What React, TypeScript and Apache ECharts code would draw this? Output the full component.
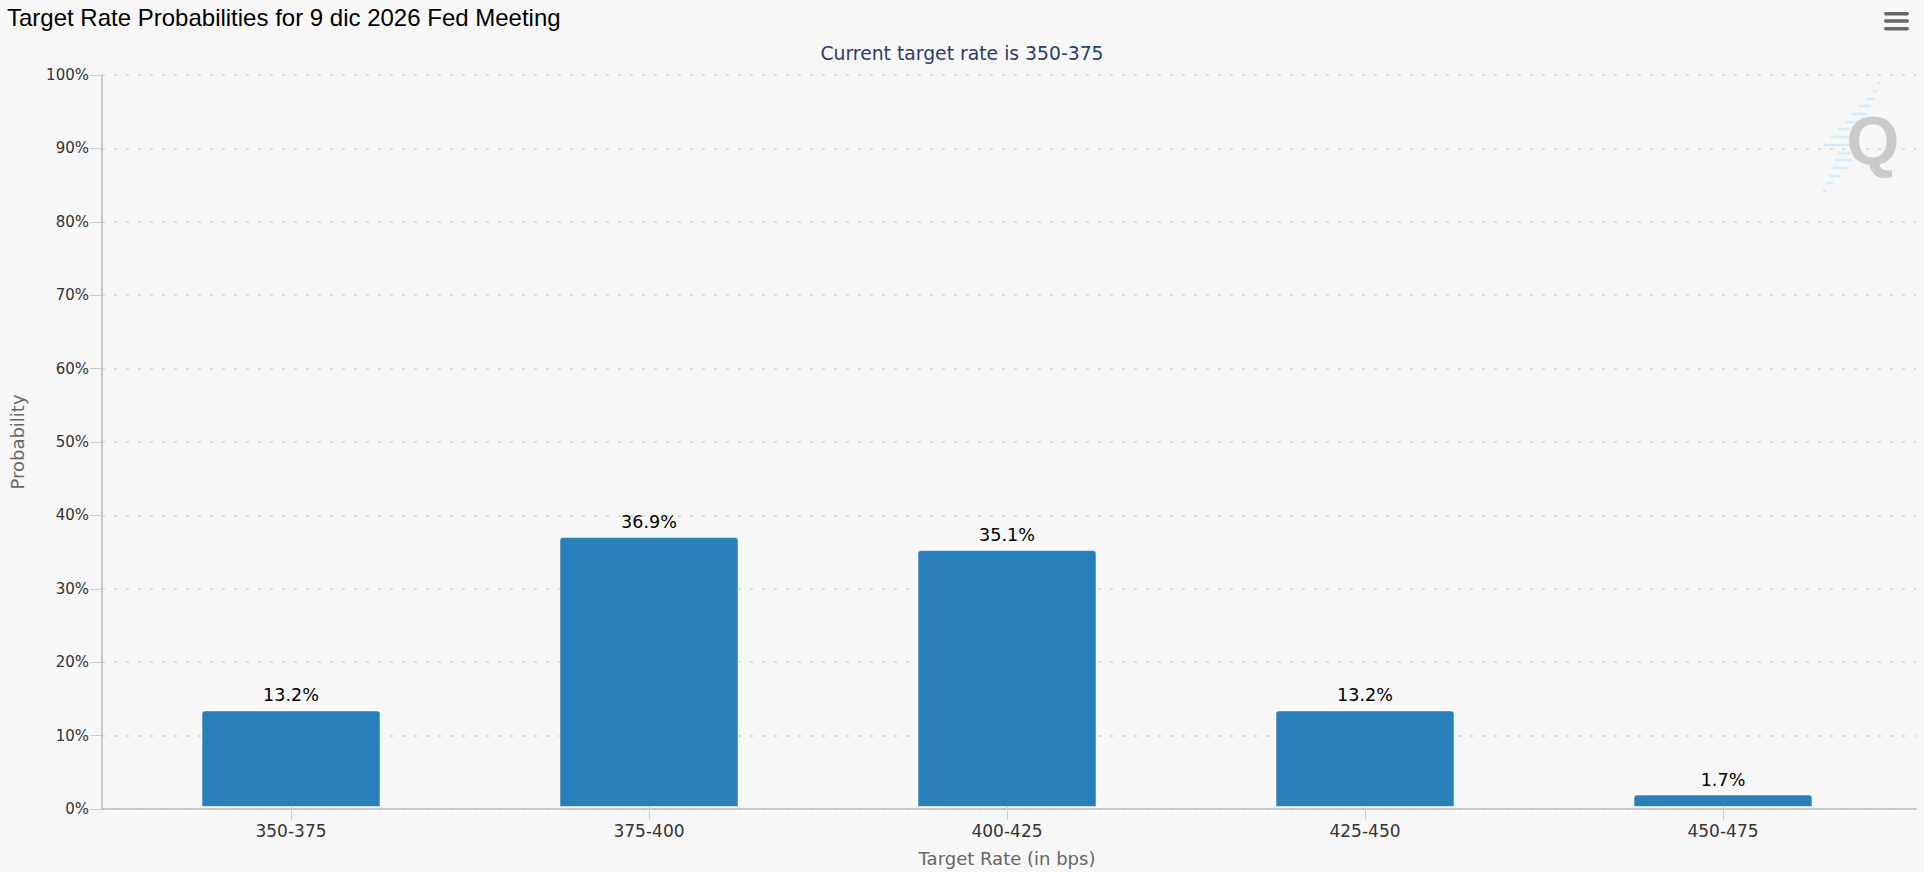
import React, { useEffect, useRef } from 'react';
import * as echarts from 'echarts';

const categories = ['350-375', '375-400', '400-425', '425-450', '450-475'];
const probabilities = [13.2, 36.9, 35.1, 13.2, 1.7];
const titleText = 'Target Rate Probabilities for 9 dic 2026 Fed Meeting';
const subtitleText = 'Current target rate is 350-375';
const yAxisName = 'Probability';
const xAxisName = 'Target Rate (in bps)';

// watermark stripes (layout only): [y, x1, x2]
const stripes: number[][] = [
  [83, 1878, 1880],
  [91, 1873, 1877],
  [99, 1866, 1874],
  [106, 1859, 1871],
  [114, 1852, 1867],
  [122, 1845, 1857],
  [129, 1838, 1850],
  [137, 1831, 1850],
  [145, 1824, 1850],
  [153, 1838, 1850],
  [160, 1835, 1852],
  [168, 1833, 1847],
  [176, 1829, 1840],
  [183, 1826, 1833],
  [191, 1823, 1826],
];

export default function App() {
  const ref = useRef<HTMLDivElement>(null);
  useEffect(() => {
    document.body.style.margin = '0';
    document.body.style.overflow = 'hidden';
    const chart = echarts.init(ref.current as HTMLDivElement, null, { renderer: 'svg' });
    const font = 'DejaVu Sans';
    const graphics: any[] = [];
    stripes.forEach((s) => {
      graphics.push({
        type: 'line',
        shape: { x1: s[1], y1: s[0], x2: s[2], y2: s[0] },
        style: { stroke: '#d4ebfa', lineWidth: 2.5 },
        z: 1,
      });
    });
    graphics.push({
      type: 'text',
      x: 1873,
      y: 140,
      style: {
        text: 'Q',
        fill: '#cacaca',
        font: 'bold 68px "Liberation Sans", Arial, sans-serif',
        align: 'center',
        verticalAlign: 'middle',
      },
      z: 2,
    });
    [13.7, 21, 28.7].forEach((y) => {
      graphics.push({
        type: 'rect',
        shape: { x: 1884, y: y - 1.8, width: 25, height: 3.6, r: 1.8 },
        style: { fill: '#666666' },
        z: 5,
      });
    });

    chart.setOption({
      animation: false,
      backgroundColor: '#f7f7f7',
      title: [
        {
          text: titleText,
          left: 7,
          top: 5,
          padding: 0,
          textStyle: {
            fontFamily: 'Liberation Sans',
            fontSize: 24,
            fontWeight: 'normal',
            color: '#000000',
          },
        },
        {
          text: subtitleText,
          left: 'center',
          top: 44,
          padding: 0,
          textStyle: {
            fontFamily: font,
            fontSize: 18.8,
            fontWeight: 'normal',
            color: '#2b3d6b',
          },
        },
      ],
      grid: [
        { left: 99, right: 8, top: 75, bottom: 63 },
        { left: 112, right: 22, top: 75, bottom: 63 },
      ],
      xAxis: [
        {
          type: 'value',
          gridIndex: 0,
          min: 0,
          max: 1,
          axisLine: { show: true, lineStyle: { color: '#bbbbbb', width: 1.5 } },
          axisTick: { show: false },
          axisLabel: { show: false },
          splitLine: { show: false },
        },
        {
          type: 'category',
          gridIndex: 1,
          data: categories,
          name: xAxisName,
          nameLocation: 'middle',
          nameGap: 42,
          nameTextStyle: { fontFamily: font, fontSize: 18, color: '#666666' },
          axisLine: { show: false },
          axisTick: { show: true, alignWithLabel: true, length: 13, lineStyle: { color: '#cccccc' } },
          axisLabel: { margin: 15, fontFamily: font, fontSize: 17, color: '#333333' },
          splitLine: { show: false },
        },
      ],
      yAxis: [
        {
          type: 'value',
          gridIndex: 0,
          min: 0,
          max: 100,
          interval: 10,
          name: yAxisName,
          nameLocation: 'middle',
          nameGap: 76,
          nameTextStyle: { fontFamily: font, fontSize: 18, color: '#666666' },
          axisLine: { show: true, lineStyle: { color: '#bbbbbb', width: 1.5 } },
          axisTick: { show: true, length: 12, lineStyle: { color: '#cccccc' } },
          axisLabel: { margin: 13, fontFamily: font, fontSize: 15, color: '#333333', formatter: '{value}%' },
          splitLine: { show: true, lineStyle: { color: '#dcdcdc', width: 2, type: [3, 9] } },
        },
        {
          type: 'value',
          gridIndex: 1,
          min: 0,
          max: 100,
          show: false,
          splitLine: { show: false },
        },
      ],
      series: [
        {
          type: 'bar',
          xAxisIndex: 1,
          yAxisIndex: 1,
          data: probabilities,
          barWidth: '50%',
          itemStyle: {
            color: '#2980b9',
            borderRadius: [3, 3, 0, 0],
            borderColor: 'rgba(255,255,255,0.5)',
            borderWidth: 1,
          },
          label: {
            show: true,
            position: 'top',
            distance: 6,
            fontFamily: font,
            fontSize: 17.6,
            color: '#000000',
            formatter: (p: any) => Number(p.value).toFixed(1) + '%',
          },
          z: 3,
        },
      ],
      graphic: graphics,
    });
    return () => chart.dispose();
  }, []);
  return <div ref={ref} style={{ width: 1924, height: 872 }} />;
}
